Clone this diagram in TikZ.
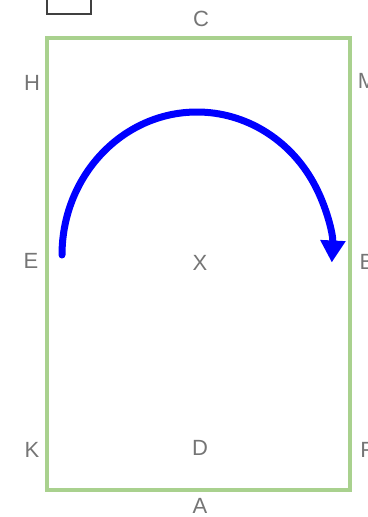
\documentclass[tikz,border=0pt]{standalone}
\usepackage{fontspec}
\setmainfont{Liberation Sans}
\usetikzlibrary{arrows.meta}
\definecolor{frameg}{HTML}{A9D18E}
\definecolor{lblg}{HTML}{757575}
\begin{document}
\begin{tikzpicture}[x=1pt,y=-1pt,
  lbl/.style={text=lblg,font=\fontsize{22}{22}\selectfont,inner sep=0pt,anchor=center},
  frame/.style={draw=frameg,line width=3.5pt},
  curvearrow/.style={draw=blue,line width=7pt,line cap=round,-{Triangle[length=22pt,width=24pt]}}]
\useasboundingbox (0,0) rectangle (367,517);
\draw[draw=black!75,line width=1.2pt] (47,-5) rectangle (91,14);
\draw[frame] (47,38) rectangle (350,490);
\node[lbl] (C) at (201,19) {C};
\node[lbl] (H) at (32,83) {H};
\node[lbl] (M) at (367,81) {M};
\node[lbl] (E) at (31,261) {E};
\node[lbl] (X) at (200,263) {X};
\node[lbl] (B) at (367,262) {B};
\node[lbl] (K) at (32,450) {K};
\node[lbl] (D) at (200,448) {D};
\node[lbl] (F) at (367,450) {F};
\node[lbl] (A) at (200,506) {A};
\draw[curvearrow] (62,255) arc[start angle=180,end angle=363,x radius=135,y radius=143];
\end{tikzpicture}
\end{document}
